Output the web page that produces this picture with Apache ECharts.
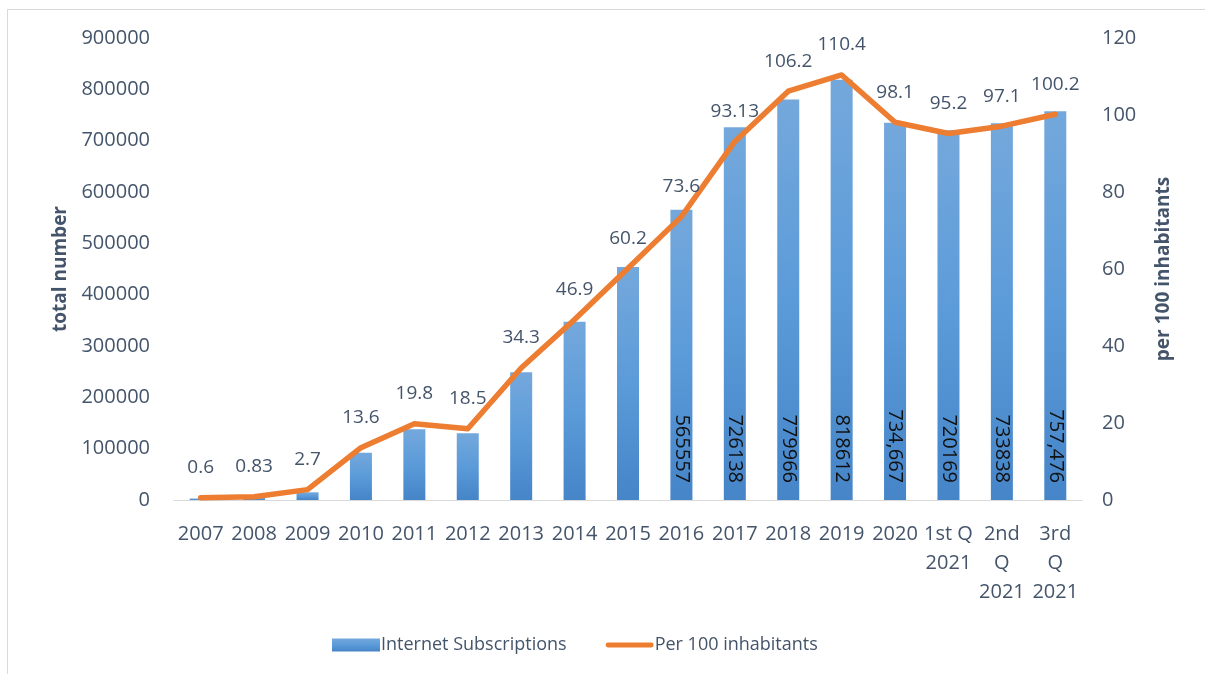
<!DOCTYPE html>
<html>
<head>
<meta charset="utf-8">
<script src="https://cdn.jsdelivr.net/npm/echarts@6/dist/echarts.min.js"></script>
<style>
html,body{margin:0;padding:0;background:#fff;}
#chart{width:1205px;height:674px;}
</style>
</head>
<body>
<div id="chart"></div>
<script>
const categories = ['2007','2008','2009','2010','2011','2012','2013','2014','2015','2016','2017','2018','2019','2020','1st Q\n2021','2nd\nQ\n2021','3rd\nQ\n2021'];
const subscriptions = [3000, 4000, 15000, 92000, 138000, 130000, 249000, 347000, 454000, 565557, 726138, 779966, 818612, 734667, 720169, 733838, 757476];
const subscriptionLabels = ['', '', '', '', '', '', '', '', '', '565557', '726138', '779966', '818612', '734,667', '720169', '733838', '757,476'];
const per100 = [0.6, 0.83, 2.7, 13.6, 19.8, 18.5, 34.3, 46.9, 60.2, 73.6, 93.13, 106.2, 110.4, 98.1, 95.2, 97.1, 100.2];
const per100Labels = ['0.6','0.83','2.7','13.6','19.8','18.5','34.3','46.9','60.2','73.6','93.13','106.2','110.4','98.1','95.2','97.1','100.2'];
const leftTicks = {min: 0, max: 900000, interval: 100000};
const rightTicks = {min: 0, max: 120, interval: 20};

const TXT = '#44546A';
const FONT = '"Open Sans", "Liberation Sans", sans-serif';

const chart = echarts.init(document.getElementById('chart'), null, {renderer: 'canvas'});

const barGradient = new echarts.graphic.LinearGradient(0, 0, 0, 1, [
  {offset: 0, color: '#74a8dc'},
  {offset: 0.5, color: '#5b9bd9'},
  {offset: 1, color: '#4585c8'}
]);

chart.setOption({
  animation: false,
  backgroundColor: '#fff',
  textStyle: {fontFamily: FONT, color: TXT},
  graphic: [{
    type: 'rect',
    shape: {x: 7.5, y: 9.5, width: 1300, height: 800},
    style: {fill: 'none', stroke: '#d9d9d9', lineWidth: 1},
    silent: true
  }],
  grid: {left: 174, right: 123, top: 38, bottom: 174},
  legend: {
    left: 327,
    top: 631,
    itemWidth: 48,
    itemHeight: 13,
    itemGap: 39,
    textStyle: {fontFamily: FONT, fontSize: 18, color: TXT, padding: [0, 0, 0, -4]},
    data: [
      {name: 'Internet Subscriptions', icon: 'rect', itemStyle: {color: barGradient}},
      {name: 'Per 100 inhabitants', icon: 'path://M2.5,0 L47.5,0 A2.5,2.5 0 0 1 47.5,5 L2.5,5 A2.5,2.5 0 0 1 2.5,0 Z', itemStyle: {color: '#ED7D31'}}
    ]
  },
  xAxis: {
    type: 'category',
    data: categories,
    axisLine: {lineStyle: {color: '#d9d9d9', width: 1}},
    axisTick: {show: false},
    axisLabel: {fontFamily: FONT, fontSize: 20, color: TXT, margin: 20, lineHeight: 29, interval: 0}
  },
  yAxis: [{
    type: 'value',
    min: leftTicks.min, max: leftTicks.max, interval: leftTicks.interval,
    name: 'total number',
    nameLocation: 'middle',
    nameRotate: 90,
    nameGap: 101,
    nameTextStyle: {fontFamily: FONT, fontSize: 19, fontWeight: 'bold', color: TXT},
    axisLine: {show: false},
    axisTick: {show: false},
    splitLine: {show: false},
    axisLabel: {fontFamily: FONT, fontSize: 20, color: TXT, margin: 24, formatter: v => String(v)}
  }, {
    type: 'value',
    position: 'right',
    min: rightTicks.min, max: rightTicks.max, interval: rightTicks.interval,
    name: 'per 100 inhabitants',
    nameLocation: 'middle',
    nameRotate: 90,
    nameGap: 72,
    nameTextStyle: {fontFamily: FONT, fontSize: 19, fontWeight: 'bold', color: TXT},
    axisLine: {show: false},
    axisTick: {show: false},
    splitLine: {show: false},
    axisLabel: {fontFamily: FONT, fontSize: 20, color: TXT, margin: 20, formatter: v => String(v)}
  }],
  series: [{
    name: 'Internet Subscriptions',
    type: 'bar',
    yAxisIndex: 0,
    barWidth: 22,
    itemStyle: {color: barGradient},
    data: subscriptions.map((v, i) => ({value: v, label: {show: subscriptionLabels[i] !== ''}})),
    label: {
      position: 'insideBottom',
      distance: 17,
      rotate: -90,
      align: 'right',
      verticalAlign: 'middle',
      fontFamily: FONT,
      fontSize: 20,
      color: '#111',
      formatter: p => subscriptionLabels[p.dataIndex]
    },
    z: 2
  }, {
    name: 'Per 100 inhabitants',
    type: 'line',
    yAxisIndex: 1,
    data: per100,
    symbol: 'circle',
    symbolSize: 1,
    itemStyle: {color: '#ED7D31'},
    lineStyle: {color: '#ED7D31', width: 5.5, cap: 'round', join: 'round'},
    label: {
      show: true,
      position: 'top',
      distance: 20,
      fontFamily: FONT,
      fontSize: 19,
      color: TXT,
      formatter: p => per100Labels[p.dataIndex]
    },
    z: 3
  }]
});
</script>
</body>
</html>
